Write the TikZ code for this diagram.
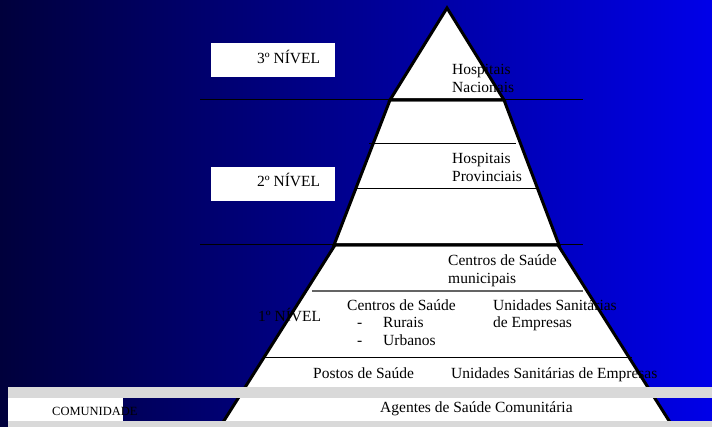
\documentclass[tikz,border=0pt]{standalone}
\usepackage{fontspec}
\setmainfont{Liberation Serif}
\definecolor{bgL}{RGB}{0,0,60}
\definecolor{bgR}{RGB}{0,0,232}
\definecolor{band}{RGB}{217,217,217}
\definecolor{midgray}{RGB}{100,100,100}
\begin{document}
\begin{tikzpicture}[x=1pt,y=-1pt,
  txt/.style={anchor=base west, inner sep=0pt, text=black, font=\fontsize{15.5}{18}\selectfont},
  smalltxt/.style={anchor=base west, inner sep=0pt, text=black, font=\fontsize{12.5}{14}\selectfont},
  thinline/.style={draw=black, line width=1pt},
  greyline/.style={draw=midgray, line width=1.3pt},
  outline/.style={draw=black, line width=3pt, line join=miter},
  levelbox/.style={fill=white}]
\useasboundingbox (0,0) rectangle (712,427);
\shade[left color=bgL, right color=bgR] (0,0) rectangle (712,427);
% long level separators
\draw[thinline] (200,100) -- (583,100);
\draw[thinline] (200,245) -- (583,245);
% level boxes
\fill[levelbox] (211,43) rectangle (335,77);
\fill[levelbox] (211,167) rectangle (335,201);
% pyramid fills
\fill[white] (447,8) -- (504,100) -- (390,100) -- cycle;
\fill[white] (390,100) -- (504,100) -- (559,245) -- (334,245) -- cycle;
\fill[white] (335,245) -- (558,245) -- (673,427) -- (220,427) -- cycle;
% inner lines
\draw[thinline] (369,144) -- (516,144);
\draw[thinline] (356,189) -- (538,189);
\draw[greyline] (312,291) -- (583,291);
\draw[thinline] (265,358) -- (632,358);
% texts
\node[txt] (n3) at (257,64) {3º NÍVEL};
\node[txt] (n2) at (257,187) {2º NÍVEL};
\node[txt] (n1) at (258,322) {1º NÍVEL};
\node[txt] (hn1) at (452,75) {Hospitais};
\node[txt] (hn2) at (452,93) {Nacionais};
\node[txt] (hp1) at (452,164) {Hospitais};
\node[txt] (hp2) at (452,182) {Provinciais};
\node[txt] (cm1) at (448,266) {Centros de Saúde};
\node[txt] (cm2) at (448,284) {municipais};
\node[txt] (cs) at (347,311) {Centros de Saúde};
\node[txt] (d1) at (357,328) {-};
\node[txt] (ru) at (383,328) {Rurais};
\node[txt] (d2) at (357,346) {-};
\node[txt] (ur) at (383,346) {Urbanos};
\node[txt] (us1) at (493,311) {Unidades Sanitárias};
\node[txt] (us2) at (493,328) {de Empresas};
\node[txt] (ps) at (313,379) {Postos de Saúde};
\node[txt] (use) at (451,379) {Unidades Sanitárias de Empresas};
\node[txt] (asc) at (380,413) {Agentes de Saúde Comunitária};
% pyramid outlines
\draw[outline] (447,8) -- (504,100) -- (390,100) -- cycle;
\draw[outline] (390,100) -- (504,100) -- (559,245) -- (334,245) -- cycle;
\draw[outline] (335,245) -- (558,245) -- (673,427) -- (220,427) -- cycle;
% bottom bands
\fill[band] (8,387) rectangle (712,398);
\fill[band] (8,421) rectangle (712,427);
\fill[white] (8,398) rectangle (123,421);
\node[smalltxt] (com) at (52,415) {COMUNIDADE};
\end{tikzpicture}
\end{document}
